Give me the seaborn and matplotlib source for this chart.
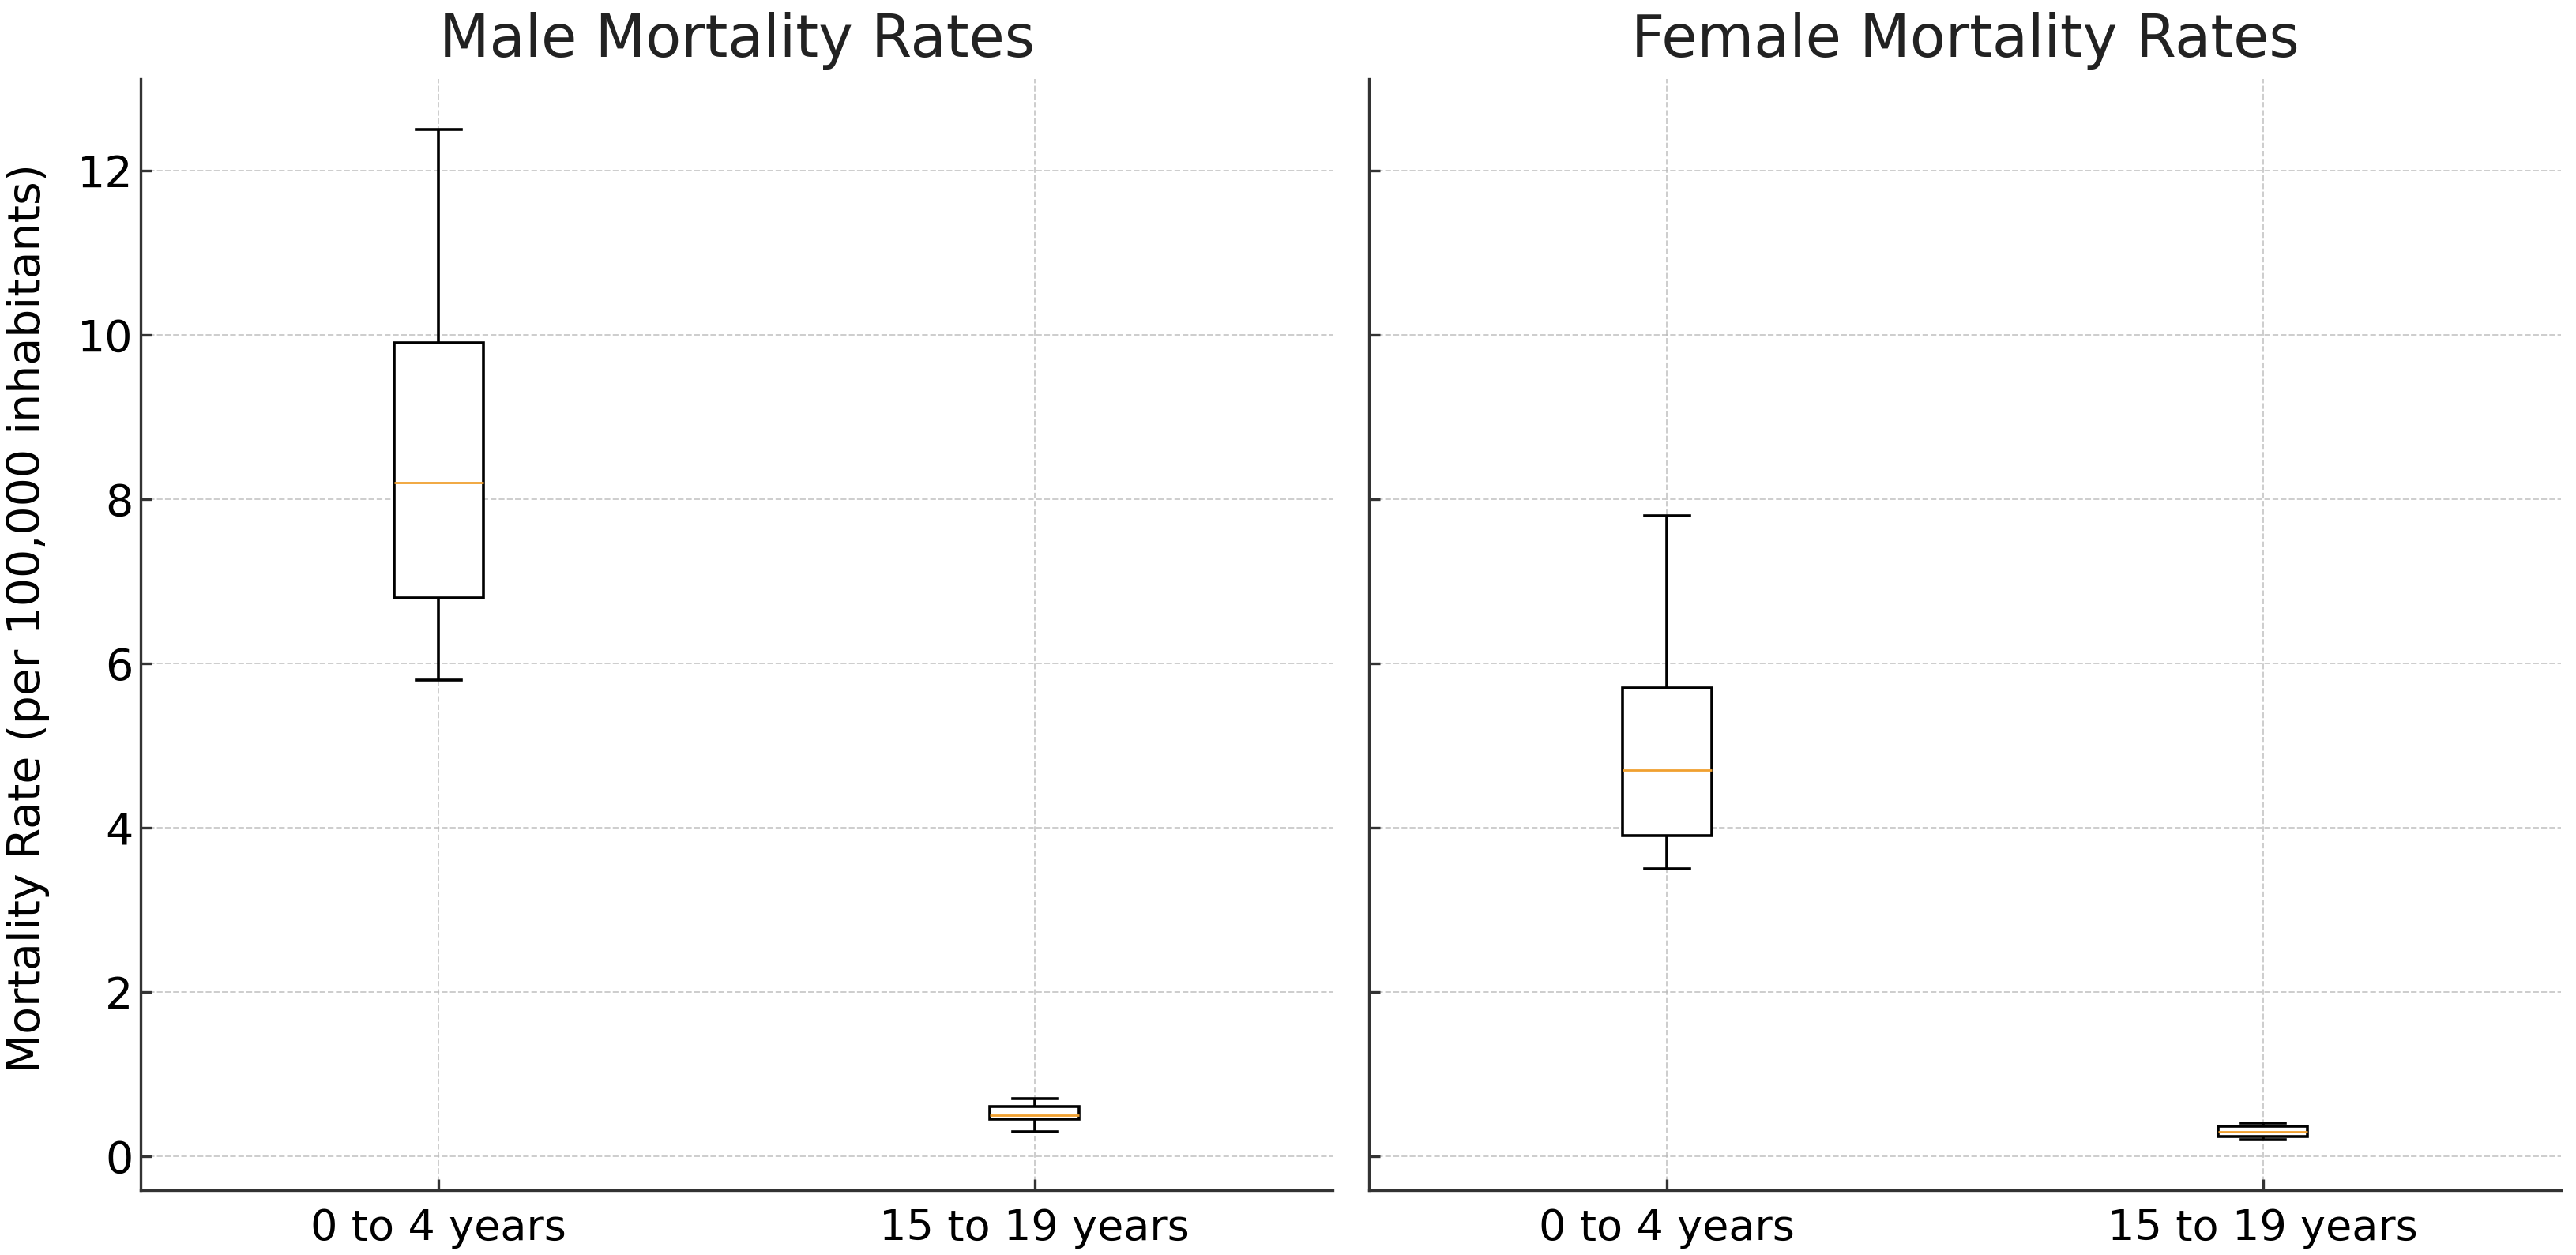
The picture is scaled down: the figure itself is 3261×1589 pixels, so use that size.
import numpy as np
import pandas as pd
import matplotlib
matplotlib.use("Agg")
import matplotlib.pyplot as plt
import seaborn as sns

# ---- data (five-number summaries: min, Q1, median, Q3, max)
age_groups = ["0 to 4 years", "15 to 19 years"]
male_0_4 = [5.8, 6.8, 8.2, 9.9, 12.5]
male_15_19 = [0.3, 0.45, 0.5, 0.6, 0.7]
female_0_4 = [3.5, 3.9, 4.7, 5.7, 7.8]
female_15_19 = [0.2, 0.24, 0.3, 0.36, 0.4]
titles = ["Male Mortality Rates", "Female Mortality Rates"]
y_label = "Mortality Rate (per 100,000 inhabitants)"
y_ticks = [0, 2, 4, 6, 8, 10, 12]

male_df = pd.DataFrame({
    "age": [age_groups[0]] * len(male_0_4) + [age_groups[1]] * len(male_15_19),
    "rate": male_0_4 + male_15_19,
})
female_df = pd.DataFrame({
    "age": [age_groups[0]] * len(female_0_4) + [age_groups[1]] * len(female_15_19),
    "rate": female_0_4 + female_15_19,
})

plt.rcParams["font.family"] = ["DejaVu Sans"]

fig, axes = plt.subplots(1, 2, figsize=(16.31, 7.945), dpi=200, sharey=True)
axes[0].set_position([0.0546, 0.0516, 0.5172 - 0.0546, 0.937 - 0.0516])
axes[1].set_position([0.5313, 0.0516, 0.9939 - 0.5313, 0.937 - 0.0516])

for ax, df, title in zip(axes, [male_df, female_df], titles):
    sns.boxplot(
        data=df, x="age", y="rate", order=age_groups, ax=ax,
        width=0.15, color="white", linecolor="black", linewidth=1.3,
        whis=1.5, showfliers=False,
        medianprops={"color": "#f0a030", "linewidth": 1.0},
    )
    ax.set_axisbelow(True)
    ax.grid(True, axis="both", linestyle="--", color="#b8b8b8", linewidth=0.7, alpha=0.7)
    ax.xaxis.grid(True, linestyle="--", color="#b8b8b8", linewidth=0.7, alpha=0.7)
    ax.set_title(title, fontsize=26.5, pad=10, color="#222222")
    ax.set_xlabel("")
    ax.set_ylabel("")
    for s in ["top", "right"]:
        ax.spines[s].set_visible(False)
    for s in ["left", "bottom"]:
        ax.spines[s].set_color("#333333")
        ax.spines[s].set_linewidth(1.2)
    ax.tick_params(axis="both", direction="in", length=5, width=1.2, color="#333333")
    ax.tick_params(axis="x", labelsize=19.5, pad=8)
    ax.tick_params(axis="y", labelsize=20)
    ax.set_xlim(-0.5, 1.5)

axes[0].set_yticks(y_ticks)
axes[0].set_ylabel(y_label, fontsize=20.5)
axes[0].yaxis.set_label_coords(-0.076, 0.515)
axes[1].tick_params(axis="y", labelleft=False)

fig.savefig("out.png", dpi=200)
